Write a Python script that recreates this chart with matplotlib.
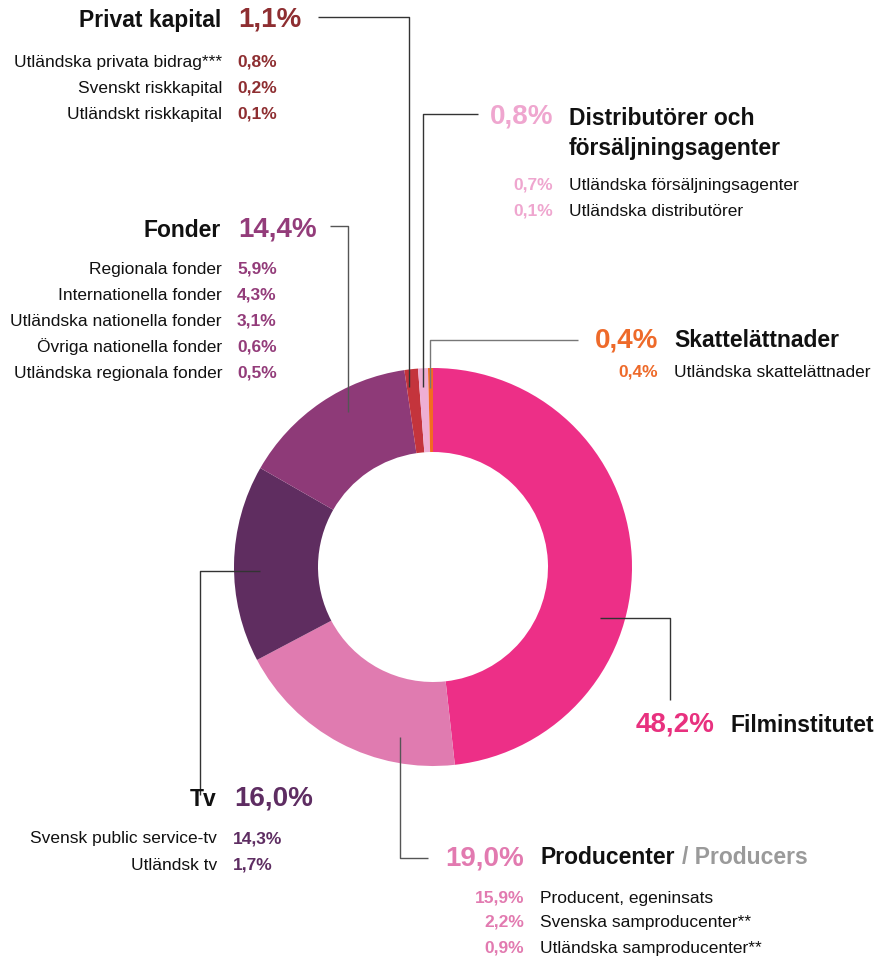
import matplotlib
matplotlib.use("Agg")
import matplotlib.pyplot as plt

plt.rcParams['font.family'] = ['Liberation Sans', 'DejaVu Sans']

W, H = 877, 958

# huvudkategorier, medurs från toppen
groups = ['Filminstitutet', 'Producenter', 'Tv', 'Fonder', 'Privat kapital',
          'Distributörer och\nförsäljningsagenter', 'Skattelättnader']
shares = [48.2, 19.0, 16.0, 14.4, 1.1, 0.8, 0.4]
slice_colors = ['#ED2F87', '#E07BB0', '#5F2D60', '#8E3A78', '#C4343C', '#EEAED3', '#F26B21']
text_colors = ['#E8317F', '#E27AB0', '#5E2D62', '#933C7A', '#8E2E31', '#EFA6CF', '#EE6A2A']

# delposter
privat_labels = ['Utländska privata bidrag***', 'Svenskt riskkapital', 'Utländskt riskkapital']
privat_values = [0.8, 0.2, 0.1]
fonder_labels = ['Regionala fonder', 'Internationella fonder', 'Utländska nationella fonder',
                 'Övriga nationella fonder', 'Utländska regionala fonder']
fonder_values = [5.9, 4.3, 3.1, 0.6, 0.5]
distr_labels = ['Utländska försäljningsagenter', 'Utländska distributörer']
distr_values = [0.7, 0.1]
skatt_labels = ['Utländska skattelättnader']
skatt_values = [0.4]
tv_labels = ['Svensk public service-tv', 'Utländsk tv']
tv_values = [14.3, 1.7]
prod_labels = ['Producent, egeninsats', 'Svenska samproducenter**', 'Utländska samproducenter**']
prod_values = [15.9, 2.2, 0.9]


def pct(v):
    return f'{v:.1f}%'.replace('.', ',')


def Y(y):
    return H - y


fig = plt.figure(figsize=(W / 100, H / 100), dpi=100)
ax = fig.add_axes([0, 0, 1, 1])

ax.pie(shares, colors=slice_colors, startangle=90, counterclock=False,
       center=(433, Y(567)), radius=199, frame=True,
       wedgeprops=dict(width=84, edgecolor='none', linewidth=0))
ax.set_xlim(0, W)
ax.set_ylim(0, H)
ax.set_aspect('equal')
ax.axis('off')

TS = 16.5   # rubrik
PS = 20     # stor procentsiffra
SS = 12.5   # delposter


def txt(x, y, s, size, color='#111111', bold=False, ha='left'):
    return ax.text(x, Y(y), s, fontsize=size, color=color, ha=ha, va='center',
                   fontweight='bold' if bold else 'normal')


def leader(xs, ys, color='#333333'):
    ax.plot(xs, [Y(v) for v in ys], color=color, lw=1.0, solid_capstyle='butt')


# vänster block: etikett till vänster, värde till höger
def left_block(title, tcol, total, ty, labels, values, ys, xr=221, xv=237):
    txt(xr, ty, title, TS, bold=True, ha='right')
    txt(xv + 1, ty - 1, pct(total), PS, color=tcol, bold=True)
    for lab, v, yy in zip(labels, values, ys):
        txt(xr + 1, yy, lab, SS, ha='right')
        txt(xv, yy, pct(v), SS, color=tcol, bold=True)


# höger block: värde till vänster, etikett till höger
def right_block(title, tcol, total, ty, labels, values, ys, xr, xl):
    txt(xr, ty, pct(total), PS, color=tcol, bold=True, ha='right')
    t = txt(xl, ty, title, TS, bold=True)
    for lab, v, yy in zip(labels, values, ys):
        txt(xr, yy, pct(v), SS, color=tcol, bold=True, ha='right')
        txt(xl, yy, lab, SS)
    return t


left_block(groups[4], text_colors[4], shares[4], 20, privat_labels, privat_values, [62, 88, 114])
left_block(groups[3], text_colors[3], shares[3], 230, fonder_labels, fonder_values,
           [269, 295, 321, 347, 373])
left_block(groups[2], text_colors[2], shares[2], 800, tv_labels, tv_values, [839, 865],
           xr=216, xv=233)

title_lines = groups[5].split('\n')
txt(569, 118, title_lines[0], TS, bold=True)
txt(569, 148, title_lines[1], TS, bold=True)
txt(553, 116, pct(shares[5]), PS, color=text_colors[5], bold=True, ha='right')
for lab, v, yy in zip(distr_labels, distr_values, [185, 211]):
    txt(553, yy, pct(v), SS, color=text_colors[5], bold=True, ha='right')
    txt(569, yy, lab, SS)

right_block(groups[6], text_colors[6], shares[6], 340, skatt_labels, skatt_values, [372],
            xr=658, xl=674)
right_block(groups[0], text_colors[0], shares[0], 725, [], [], [], xr=715, xl=731)
pt = right_block(groups[1], text_colors[1], shares[1], 858, prod_labels, prod_values,
                 [898, 922, 948], xr=524, xl=540)

fig.canvas.draw()
bb = pt.get_window_extent(fig.canvas.get_renderer())
ax.text(bb.x1 + 8, Y(858), '/ Producers', fontsize=TS, fontweight='bold', color='#9A9A9A',
        ha='left', va='center')

# ledarlinjer
leader([318, 409, 409], [17, 17, 387])
leader([478, 423, 423], [114, 114, 387])
leader([578, 430, 430], [340, 340, 388], color='#777777')
leader([330, 348, 348], [226, 226, 412], color='#555555')
leader([260, 200, 200], [571, 571, 795], color='#333333')
leader([400, 400, 428], [737, 858, 858], color='#555555')
leader([600, 670, 670], [618, 618, 700], color='#333333')

fig.savefig('out.png', dpi=100, facecolor='white')
